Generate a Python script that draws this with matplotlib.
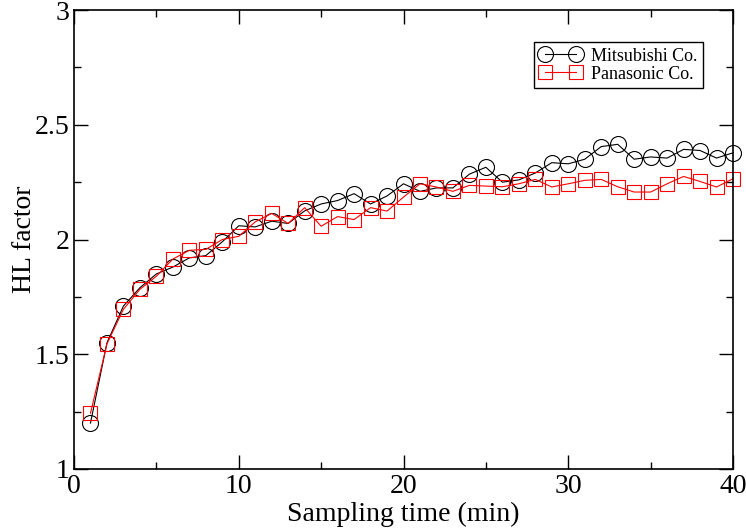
import numpy as np
import matplotlib
matplotlib.use('Agg')
import matplotlib.pyplot as plt
from matplotlib.ticker import MultipleLocator

plt.rcParams['font.family'] = ['Liberation Serif', 'DejaVu Serif']

# Sampling times (min)
sampling_time = list(range(1, 41))

# HL factor
mitsubishi = [1.20, 1.55, 1.71, 1.79, 1.85, 1.88, 1.92, 1.93, 1.99, 2.06,
              2.055, 2.08, 2.07, 2.125, 2.155, 2.17, 2.20, 2.155, 2.19, 2.243,
              2.21, 2.225, 2.225, 2.285, 2.315, 2.25, 2.26, 2.29, 2.335, 2.33,
              2.35, 2.405, 2.415, 2.35, 2.36, 2.355, 2.393, 2.388, 2.355, 2.378]
panasonic = [1.243, 1.545, 1.696, 1.783, 1.84, 1.915, 1.953, 1.957, 2.0, 2.014,
             2.077, 2.114, 2.07, 2.139, 2.058, 2.10, 2.087, 2.139, 2.124, 2.185,
             2.243, 2.229, 2.21, 2.236, 2.233, 2.23, 2.243, 2.262, 2.229, 2.243,
             2.258, 2.262, 2.23, 2.207, 2.207, 2.243, 2.275, 2.253, 2.229, 2.265]

fig = plt.figure(figsize=(7.46, 5.31), dpi=100)
ax = fig.add_axes([0.0992, 0.1168, 0.8834, 0.8642])

ax.plot(sampling_time, mitsubishi, color='black', lw=0.8, marker='o', ms=11.5,
        mfc='none', mec='black', mew=0.8, label='Mitsubishi Co.', clip_on=False)
ax.plot(sampling_time, panasonic, color='red', lw=0.8, marker='s', ms=10,
        mfc='none', mec='red', mew=0.8, label='Panasonic Co.', clip_on=False)

ax.set_xlim(0, 40)
ax.set_ylim(1, 3)
ax.xaxis.set_major_locator(MultipleLocator(10))
ax.xaxis.set_minor_locator(MultipleLocator(5))
ax.yaxis.set_major_locator(MultipleLocator(0.5))
ax.yaxis.set_minor_locator(MultipleLocator(0.25))
ax.yaxis.set_major_formatter(plt.FuncFormatter(lambda v, p: ('%g' % v)))

ax.tick_params(which='both', direction='in', top=True, right=True, labelsize=20,
               width=1)
ax.tick_params(which='major', length=10)
ax.tick_params(which='minor', length=5)
for s in ax.spines.values():
    s.set_linewidth(1.2)

ax.set_xlabel('Sampling time (min)', fontsize=20, labelpad=2)
ax.set_ylabel('HL factor', fontsize=20, labelpad=-2)

leg = ax.legend(loc='upper right', bbox_to_anchor=(0.954, 0.930), numpoints=2,
                fontsize=13, fancybox=False, framealpha=1, edgecolor='black',
                handlelength=2.35, borderpad=0.3, labelspacing=0.05,
                handletextpad=0.5, borderaxespad=0)
leg.get_frame().set_linewidth(1.0)

fig.savefig('out.png', dpi=100)
